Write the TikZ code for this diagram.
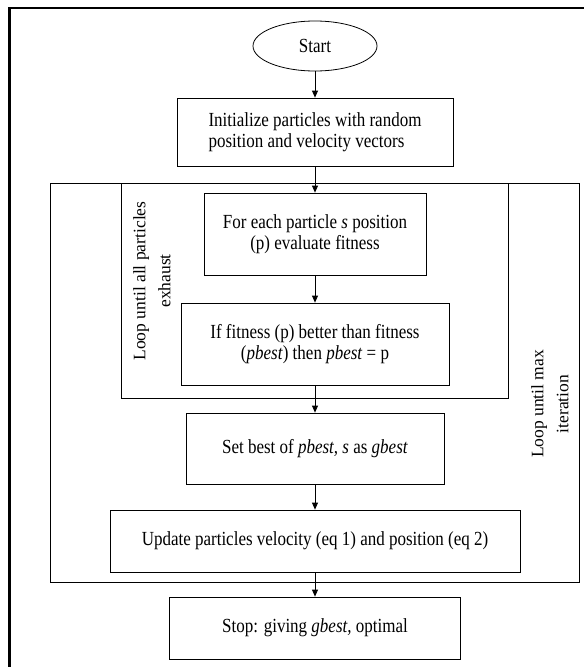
\documentclass[tikz,border=0pt]{standalone}
\usepackage{fontspec}
\setmainfont{Liberation Serif}[FakeStretch=0.85]
\newfontfamily\rotfont{Liberation Serif}
\usetikzlibrary{arrows.meta,shapes.geometric}
\begin{document}
\begin{tikzpicture}[x=1pt,y=-1pt,
  every node/.style={font=\fontsize{20}{21}\selectfont},
  box/.style={draw=black,line width=0.8pt,rectangle,inner sep=0pt,align=center},
  loopbox/.style={draw=black,line width=0.8pt},
  looplabel/.style={rotate=90,align=center,inner sep=0pt,font=\rotfont\fontsize{17.5}{25}\selectfont},
  flow/.style={draw=black,line width=0.8pt,-{Triangle[length=7pt,width=6pt]}}]
\useasboundingbox (0,0) rectangle (584,667);
% outer frame (left and top edges only)
\draw[line width=2.2pt] (9.5,667) -- (9.5,8) -- (584,8);
% loop regions
\draw[loopbox] (50,183) rectangle (579,582);
\draw[loopbox] (121,183) rectangle (508,398);
% nodes
\node[draw=black,line width=0.8pt,ellipse,minimum width=124pt,minimum height=50pt,inner sep=0pt] (start) at (315,46) {Start};
\node[box,minimum width=276pt,minimum height=68pt,align=left] (init) at (315,132)
  {Initialize particles with random\\position and velocity vectors};
\node[box,minimum width=222pt,minimum height=82pt] (foreach) at (315,234)
  {For each particle \textit{s} position\\(p) evaluate fitness};
\node[box,minimum width=268pt,minimum height=82pt] (iffit) at (315,344)
  {If fitness (p) better than fitness\\(\textit{pbest}) then \textit{pbest} = p};
\node[box,minimum width=258pt,minimum height=71pt] (setbest) at (315,448.5)
  {Set best of \textit{pbest, s} as \textit{gbest}};
\node[box,minimum width=410pt,minimum height=62pt] (update) at (315,541)
  {Update particles velocity (eq 1) and position (eq 2)};
\node[box,minimum width=291pt,minimum height=62pt] (stop) at (315,628)
  {Stop: giving \textit{gbest,} optimal};
% loop labels
\node[looplabel] (innerlabel) at (152,281) {Loop until all particles\\exhaust};
\node[looplabel] (outerlabel) at (550,404) {Loop until max\\iteration};
% connectors
\draw[flow] (start) -- (init);
\draw[flow] (init) -- (foreach);
\draw[flow] (foreach) -- (iffit);
\draw[flow] (iffit) -- (setbest);
\draw[flow] (setbest) -- (update);
\draw[flow] (update) -- (stop);
\end{tikzpicture}
\end{document}
